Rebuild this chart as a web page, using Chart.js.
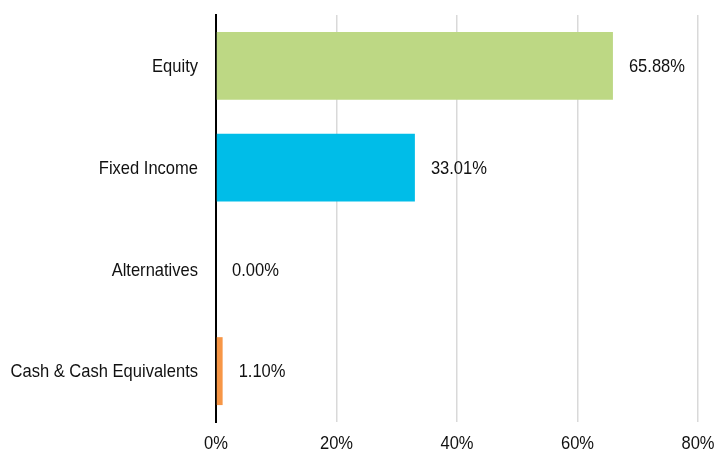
<!DOCTYPE html>
<html>
<head>
<meta charset="utf-8">
<script src="https://cdn.jsdelivr.net/npm/chart.js@4/dist/chart.umd.min.js"></script>
<style>
  html, body { margin: 0; padding: 0; background: #fff; }
  #wrap { width: 714px; height: 453px; }
</style>
</head>
<body>
<div id="wrap"><canvas id="allocChart" width="714" height="453"></canvas></div>
<script>
// === Dữ liệu
const categories = ["Equity", "Fixed Income", "Alternatives", "Cash & Cash Equivalents"];
const weights = [65.88, 33.01, 0.0, 1.1];
const barColors = ["#bdd884", "#00bde8", "#bdd884", "#f79646"];
const xTicks = [0, 20, 40, 60, 80];

// chữ hẹp kiểu Arial Narrow: dùng Liberation Sans rồi nén ngang
const textFont = "19px 'Liberation Sans', Arial, sans-serif";
const squeeze = 0.87;
const textColor = "#111";

function narrowText(ctx, str, x, y, align) {
  ctx.save();
  ctx.translate(x, y);
  ctx.scale(squeeze, 1);
  ctx.font = textFont;
  ctx.fillStyle = textColor;
  ctx.textAlign = align;
  ctx.textBaseline = "middle";
  ctx.fillText(str, 0, 0);
  ctx.restore();
}

// === Nhãn trục + nhãn giá trị
const narrowLabels = {
  id: "narrowLabels",
  afterDraw(chart) {
    const ctx = chart.ctx;
    const xs = chart.scales.x;
    const ys = chart.scales.y;
    categories.forEach((c, i) => {
      narrowText(ctx, c, ys.right - 18, ys.getPixelForTick(i) + 1, "right");
    });
    xTicks.forEach((v) => {
      narrowText(ctx, v + "%", xs.getPixelForValue(v), 444, "center");
    });
    chart.getDatasetMeta(0).data.forEach((bar, i) => {
      narrowText(ctx, weights[i].toFixed(2) + "%", bar.x + 16, bar.y + 1, "left");
    });
  },
};

new Chart(document.getElementById("allocChart").getContext("2d"), {
  type: "bar",
  data: {
    labels: categories,
    datasets: [
      {
        data: weights,
        backgroundColor: barColors,
        borderWidth: 0,
        barPercentage: 0.75,
        categoryPercentage: 0.89,
      },
    ],
  },
  options: {
    indexAxis: "y",
    responsive: false,
    animation: false,
    layout: { padding: { top: 15, right: 16, left: 0, bottom: 0 } },
    plugins: {
      legend: { display: false },
      tooltip: { enabled: false },
    },
    scales: {
      x: {
        min: 0,
        max: 80,
        afterBuildTicks: (axis) => {
          axis.ticks = xTicks.map((v) => ({ value: v }));
        },
        afterFit: (axis) => {
          axis.height = 31;
          axis.paddingLeft = 0;
          axis.paddingRight = 0;
        },
        ticks: { display: false },
        grid: {
          color: (c) => (c.tick && c.tick.value === 0 ? "rgba(0,0,0,0)" : "#d9d9d9"),
          lineWidth: 1.5,
          drawTicks: false,
        },
        border: { display: false },
      },
      y: {
        afterFit: (axis) => {
          axis.width = 216;
          axis.paddingTop = 0;
          axis.paddingBottom = 0;
        },
        ticks: { display: false },
        grid: { display: false, drawTicks: false },
        border: { display: true, color: "#000", width: 2 },
      },
    },
  },
  plugins: [narrowLabels],
});
</script>
</body>
</html>
